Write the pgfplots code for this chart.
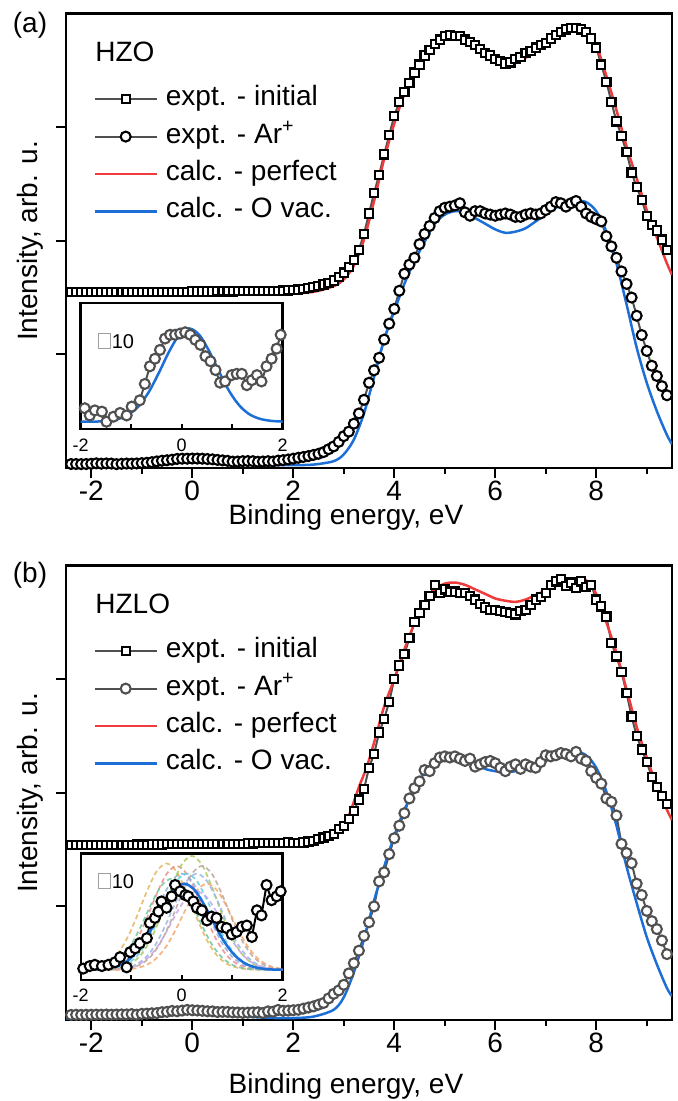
\documentclass[border=0pt]{standalone}
\usepackage{fontspec}
\setmainfont{Liberation Sans}
\usepackage{pgfplots}
\usepackage{pgfplotstable}
\pgfplotsset{compat=1.18}

\definecolor{cRed}{HTML}{EF3B3B}
\definecolor{cBlue}{HTML}{1D6FD8}
\definecolor{cGray}{HTML}{505050}
\definecolor{gTan}{HTML}{E3B65E}
\definecolor{gPink}{HTML}{F08C8C}
\definecolor{gGreen}{HTML}{A6CB5A}
\definecolor{gTeal}{HTML}{6CC79A}
\definecolor{gBlue}{HTML}{8AAEE0}
\definecolor{gCyan}{HTML}{5FD3E0}
\definecolor{gBrown}{HTML}{BCA49C}
\definecolor{gLBlue}{HTML}{9AB6E6}
\definecolor{gOrange}{HTML}{F5A66A}
\definecolor{gPurple}{HTML}{C9A3EC}

\newcommand\fmain{\fontsize{14}{16.8}\selectfont}
\newcommand\fins{\fontsize{9}{10.8}\selectfont}
\newcommand\flab{\fontsize{10}{12}\selectfont}
\newcommand\tofu{{\color{gray!75}\fboxsep=0pt\fboxrule=0.45pt\fbox{\rule{0pt}{7pt}\hspace{5.2pt}}}}

\pgfplotsset{
  mainax/.style={
    scale only axis, width=303pt, height=227.25pt,
    xmin=-2.5, xmax=9.5, ymin=0, ymax=4,
    axis line style={line width=1.4pt},
    tick pos=left, tick align=outside,
    xtick={-2,0,2,4,6,8}, xticklabels={-2,0,2,4,6,8},
    minor xtick={-1,1,3,5,7,9},
    ytick={1,2,3}, yticklabels={,,},
    major tick length=5pt, minor tick length=3pt,
    every tick/.style={black, line width=1pt},
    xticklabel style={font=\fmain, inner sep=0pt, yshift=-1.5pt},
    legend style={at={(axis description cs:0.0446,0.842)}, anchor=north west,
      draw=none, fill=none, inner sep=0pt, row sep=5.2pt, column sep=4pt,
      nodes={inner sep=0pt, text height=10pt, text depth=3.5pt, font=\fmain}},
    legend cell align=left,
    legend image code/.code={\draw[mark repeat=2,mark phase=2,##1] plot coordinates {(0pt,0pt) (15.5pt,0pt) (31pt,0pt)};},
  },
  insax/.style={
    scale only axis, width=101pt, height=63pt,
    xmin=-2, xmax=2, ymin=0, ymax=1,
    axis line style={line width=1.2pt},
    axis background/.style={fill=white},
    tick pos=left, tick align=inside,
    xtick={-2,-1,0,1,2}, xticklabels={-2,,0,,2},
    ytick=\empty,
    major tick length=2.5pt,
    every tick/.style={black, line width=0.9pt},
    xticklabel style={font=\fins, inner sep=0pt, yshift=-4.5pt},
  },
  expA/.style={color=cGray, line width=1pt,
    mark options={draw=black, fill=white, line width=1.05pt, solid}},
  expB/.style={color=cGray, line width=1pt,
    mark options={draw=cGray, fill=white, line width=1.05pt, solid}},
  calcR/.style={color=cRed, line width=1.25pt, smooth, no marks},
  calcB/.style={color=cBlue, line width=1.25pt, smooth, no marks},
  gau/.style={line width=0.85pt, smooth, no marks, dash pattern=on 2.4pt off 1.6pt, opacity=0.85},
}

% (a) HZO, expt. - initial
\pgfplotstableread{
E I
-2.4 1.548
-2.3 1.548
-2.2 1.547
-2.1 1.548
-2.0 1.548
-1.9 1.549
-1.8 1.548
-1.7 1.548
-1.6 1.549
-1.5 1.548
-1.4 1.549
-1.3 1.549
-1.2 1.548
-1.1 1.549
-1.0 1.549
-0.9 1.550
-0.8 1.550
-0.7 1.550
-0.6 1.551
-0.5 1.551
-0.4 1.551
-0.3 1.552
-0.2 1.552
-0.1 1.552
0.0 1.553
0.1 1.553
0.2 1.553
0.3 1.553
0.4 1.553
0.5 1.554
0.6 1.554
0.7 1.554
0.8 1.554
0.9 1.555
1.0 1.555
1.1 1.555
1.2 1.556
1.3 1.556
1.4 1.557
1.5 1.557
1.6 1.558
1.7 1.560
1.8 1.561
1.9 1.563
2.0 1.565
2.1 1.570
2.2 1.577
2.3 1.585
2.4 1.592
2.5 1.600
2.6 1.615
2.7 1.630
2.8 1.650
2.9 1.680
3.0 1.720
3.1 1.770
3.2 1.830
3.3 1.920
3.4 2.060
3.5 2.240
3.6 2.420
3.7 2.580
3.8 2.760
3.9 2.930
4.0 3.100
4.1 3.220
4.2 3.310
4.3 3.390
4.4 3.480
4.5 3.550
4.6 3.630
4.7 3.680
4.8 3.730
4.9 3.770
5.0 3.800
5.1 3.810
5.2 3.800
5.3 3.800
5.4 3.770
5.5 3.750
5.6 3.720
5.7 3.690
5.8 3.650
5.9 3.630
6.0 3.600
6.1 3.580
6.2 3.560
6.3 3.570
6.4 3.600
6.5 3.620
6.6 3.650
6.7 3.670
6.8 3.700
6.9 3.720
7.0 3.740
7.1 3.780
7.2 3.810
7.3 3.840
7.4 3.860
7.5 3.870
7.6 3.870
7.7 3.860
7.8 3.840
7.9 3.780
8.0 3.700
8.1 3.550
8.2 3.400
8.3 3.220
8.4 3.050
8.5 2.920
8.6 2.780
8.7 2.600
8.8 2.470
8.9 2.360
9.0 2.220
9.1 2.140
9.2 2.090
9.3 2.010
9.4 1.920
}\sqA

% (a) HZO, expt. - Ar+
\pgfplotstableread{
E I
-2.4 0.035
-2.3 0.035
-2.2 0.034
-2.1 0.035
-2.0 0.037
-1.9 0.041
-1.8 0.038
-1.7 0.040
-1.6 0.039
-1.5 0.034
-1.4 0.037
-1.3 0.039
-1.2 0.038
-1.1 0.040
-1.0 0.043
-0.9 0.046
-0.8 0.051
-0.7 0.058
-0.6 0.064
-0.5 0.068
-0.4 0.073
-0.3 0.080
-0.2 0.082
-0.1 0.082
0.0 0.083
0.1 0.083
0.2 0.082
0.3 0.079
0.4 0.076
0.5 0.071
0.6 0.067
0.7 0.063
0.8 0.056
0.9 0.057
1.0 0.060
1.1 0.061
1.2 0.060
1.3 0.055
1.4 0.057
1.5 0.060
1.6 0.057
1.7 0.065
1.8 0.069
1.9 0.075
2.0 0.082
2.1 0.090
2.2 0.097
2.3 0.105
2.4 0.115
2.5 0.125
2.6 0.140
2.7 0.165
2.8 0.190
2.9 0.230
3.0 0.280
3.1 0.320
3.2 0.390
3.3 0.480
3.4 0.600
3.5 0.750
3.6 0.860
3.7 0.970
3.8 1.130
3.9 1.270
4.0 1.400
4.1 1.560
4.2 1.710
4.3 1.790
4.4 1.850
4.5 1.970
4.6 2.060
4.7 2.130
4.8 2.200
4.9 2.260
5.0 2.290
5.1 2.300
5.2 2.310
5.3 2.330
5.4 2.250
5.5 2.220
5.6 2.260
5.7 2.260
5.8 2.240
5.9 2.230
6.0 2.220
6.1 2.230
6.2 2.240
6.3 2.230
6.4 2.210
6.5 2.210
6.6 2.230
6.7 2.240
6.8 2.230
6.9 2.240
7.0 2.270
7.1 2.300
7.2 2.340
7.3 2.330
7.4 2.300
7.5 2.330
7.6 2.350
7.7 2.300
7.8 2.240
7.9 2.210
8.0 2.190
8.1 2.170
8.2 2.040
8.3 1.950
8.4 1.850
8.5 1.730
8.6 1.620
8.7 1.500
8.8 1.340
8.9 1.170
9.0 1.030
9.1 0.900
9.2 0.810
9.3 0.720
9.4 0.640
}\ciA

% (b) HZLO, expt. - initial
\pgfplotstableread{
E I
-2.4 1.540
-2.3 1.541
-2.2 1.540
-2.1 1.541
-2.0 1.541
-1.9 1.542
-1.8 1.541
-1.7 1.542
-1.6 1.542
-1.5 1.543
-1.4 1.542
-1.3 1.543
-1.2 1.543
-1.1 1.544
-1.0 1.544
-0.9 1.544
-0.8 1.545
-0.7 1.545
-0.6 1.545
-0.5 1.546
-0.4 1.546
-0.3 1.546
-0.2 1.547
-0.1 1.547
0.0 1.548
0.1 1.548
0.2 1.548
0.3 1.549
0.4 1.549
0.5 1.550
0.6 1.550
0.7 1.550
0.8 1.551
0.9 1.551
1.0 1.552
1.1 1.553
1.2 1.554
1.3 1.555
1.4 1.556
1.5 1.557
1.6 1.558
1.7 1.559
1.8 1.560
1.9 1.562
2.0 1.555
2.1 1.557
2.2 1.562
2.3 1.570
2.4 1.578
2.5 1.590
2.6 1.605
2.7 1.620
2.8 1.640
2.9 1.680
3.0 1.710
3.1 1.770
3.2 1.840
3.3 1.940
3.4 2.030
3.5 2.220
3.6 2.340
3.7 2.530
3.8 2.650
3.9 2.800
4.0 3.000
4.1 3.120
4.2 3.220
4.3 3.360
4.4 3.500
4.5 3.580
4.6 3.650
4.7 3.730
4.8 3.830
4.9 3.760
5.0 3.790
5.1 3.770
5.2 3.770
5.3 3.760
5.4 3.760
5.5 3.730
5.6 3.700
5.7 3.660
5.8 3.630
5.9 3.610
6.0 3.610
6.1 3.600
6.2 3.590
6.3 3.580
6.4 3.570
6.5 3.600
6.6 3.610
6.7 3.650
6.8 3.700
6.9 3.720
7.0 3.760
7.1 3.830
7.2 3.860
7.3 3.880
7.4 3.820
7.5 3.850
7.6 3.800
7.7 3.860
7.8 3.810
7.9 3.830
8.0 3.700
8.1 3.640
8.2 3.550
8.3 3.320
8.4 3.200
8.5 3.060
8.6 2.880
8.7 2.670
8.8 2.500
8.9 2.380
9.0 2.270
9.1 2.140
9.2 2.050
9.3 1.970
9.4 1.900
}\sqB

% (b) HZLO, expt. - Ar+
\pgfplotstableread{
E I
-2.4 0.045
-2.3 0.046
-2.2 0.045
-2.1 0.046
-2.0 0.046
-1.9 0.047
-1.8 0.047
-1.7 0.048
-1.6 0.047
-1.5 0.048
-1.4 0.049
-1.3 0.049
-1.2 0.052
-1.1 0.047
-1.0 0.054
-0.9 0.056
-0.8 0.059
-0.7 0.061
-0.6 0.069
-0.5 0.072
-0.4 0.080
-0.3 0.077
-0.2 0.083
-0.1 0.089
0.0 0.086
0.1 0.084
0.2 0.081
0.3 0.077
0.4 0.076
0.5 0.070
0.6 0.072
0.7 0.071
0.8 0.067
0.9 0.066
1.0 0.063
1.1 0.065
1.2 0.067
1.3 0.068
1.4 0.062
1.5 0.076
1.6 0.073
1.7 0.089
1.8 0.081
1.9 0.083
2.0 0.086
2.1 0.090
2.2 0.100
2.3 0.110
2.4 0.120
2.5 0.135
2.6 0.150
2.7 0.190
2.8 0.230
2.9 0.260
3.0 0.310
3.1 0.410
3.2 0.500
3.3 0.610
3.4 0.740
3.5 0.860
3.6 1.000
3.7 1.220
3.8 1.300
3.9 1.460
4.0 1.600
4.1 1.710
4.2 1.820
4.3 1.950
4.4 2.040
4.5 2.100
4.6 2.200
4.7 2.190
4.8 2.260
4.9 2.310
5.0 2.320
5.1 2.310
5.2 2.320
5.3 2.300
5.4 2.280
5.5 2.300
5.6 2.230
5.7 2.250
5.8 2.270
5.9 2.280
6.0 2.260
6.1 2.220
6.2 2.190
6.3 2.230
6.4 2.250
6.5 2.210
6.6 2.250
6.7 2.230
6.8 2.220
6.9 2.270
7.0 2.330
7.1 2.320
7.2 2.330
7.3 2.350
7.4 2.340
7.5 2.320
7.6 2.360
7.7 2.300
7.8 2.280
7.9 2.190
8.0 2.130
8.1 2.080
8.2 1.950
8.3 1.920
8.4 1.800
8.5 1.550
8.6 1.470
8.7 1.380
8.8 1.200
8.9 1.100
9.0 0.960
9.1 0.870
9.2 0.800
9.3 0.700
9.4 0.580
}\ciB

\begin{document}
\begin{tikzpicture}[font=\fmain]

% ---------------- panel (a) ----------------
\begin{axis}[mainax, at={(0pt,0pt)}, anchor=south west]
\addplot[expA, mark=square*, mark size=2.05pt] table[x=E,y=I] {\sqA};
\addplot[expA, mark=*, mark size=2.5pt] table[x=E,y=I] {\ciA};
\addplot[calcR] coordinates {(-2.5,1.525)(-1.5,1.525)(-0.5,1.527)(0.5,1.528)(1.0,1.530)(1.5,1.533)(2.0,1.538)(2.4,1.550)(2.8,1.600)(3.0,1.660)(3.2,1.780)(3.4,2.010)(3.6,2.350)(3.8,2.720)(4.0,3.030)(4.2,3.290)(4.4,3.480)(4.6,3.620)(4.8,3.720)(5.0,3.780)(5.2,3.810)(5.4,3.800)(5.6,3.750)(5.8,3.680)(6.0,3.620)(6.2,3.585)(6.4,3.580)(6.6,3.610)(6.8,3.670)(7.0,3.730)(7.2,3.790)(7.4,3.840)(7.6,3.870)(7.8,3.850)(8.0,3.720)(8.2,3.450)(8.4,3.150)(8.6,2.830)(8.8,2.550)(9.0,2.270)(9.2,2.030)(9.4,1.800)(9.5,1.700)};
\addplot[calcB] coordinates {(-2.5,0.025)(-1.6,0.025)(-1.2,0.026)(-0.8,0.032)(-0.4,0.045)(0.0,0.060)(0.2,0.065)(0.4,0.062)(0.8,0.045)(1.2,0.030)(1.6,0.025)(2.0,0.025)(2.4,0.030)(2.8,0.060)(3.0,0.120)(3.2,0.250)(3.4,0.480)(3.6,0.800)(3.8,1.130)(4.0,1.380)(4.2,1.620)(4.4,1.820)(4.6,1.990)(4.8,2.150)(5.0,2.230)(5.2,2.260)(5.4,2.250)(5.6,2.200)(5.8,2.150)(6.0,2.100)(6.2,2.070)(6.4,2.080)(6.6,2.110)(6.8,2.170)(7.0,2.230)(7.2,2.290)(7.4,2.330)(7.6,2.350)(7.8,2.340)(8.0,2.260)(8.2,2.080)(8.4,1.800)(8.6,1.440)(8.8,1.060)(9.0,0.750)(9.2,0.500)(9.4,0.290)(9.5,0.210)};
\legend{expt. - initial, expt. - Ar\textsuperscript{+}, calc. - perfect, calc. - O vac.}
\end{axis}

\begin{axis}[insax, at={(7.35pt,19.35pt)}, anchor=south west]
\addplot[color=cGray, line width=1pt, mark=*, mark size=2.5pt,
  mark options={draw=cGray, fill=white, line width=1.05pt, solid}] coordinates {
(-1.92,0.167)(-1.82,0.110)(-1.72,0.150)(-1.58,0.140)(-1.49,0.060)(-1.35,0.100)(-1.22,0.130)(-1.09,0.110)(-0.99,0.180)(-0.83,0.230)(-0.73,0.360)(-0.63,0.500)(-0.53,0.560)(-0.43,0.630)(-0.33,0.720)(-0.23,0.750)(-0.13,0.750)(-0.03,0.760)(0.07,0.770)(0.17,0.750)(0.27,0.710)(0.37,0.670)(0.47,0.580)(0.57,0.540)(0.67,0.470)(0.76,0.370)(0.86,0.380)(0.99,0.430)(1.09,0.440)(1.19,0.440)(1.29,0.350)(1.39,0.390)(1.49,0.430)(1.58,0.380)(1.68,0.500)(1.78,0.560)(1.88,0.640)(1.96,0.750)};
\addplot[calcB] coordinates {(-2.05,0.060)(-1.85,0.061)(-1.65,0.062)(-1.45,0.068)(-1.25,0.083)(-1.05,0.117)(-0.85,0.185)(-0.65,0.297)(-0.45,0.450)(-0.25,0.616)(-0.05,0.749)(0.15,0.800)(0.35,0.749)(0.55,0.616)(0.75,0.450)(0.95,0.297)(1.15,0.185)(1.35,0.117)(1.55,0.083)(1.75,0.068)(1.95,0.062)(2.15,0.061)};
\node[anchor=base west, inner sep=0pt, font=\flab] at (axis cs:-1.657,0.645) {\tofu\kern0.6pt 10};
\end{axis}

\node[anchor=base, inner sep=0pt] at (-18pt,217.8pt) {(a)};
\node[anchor=base west, inner sep=0pt] at (14.5pt,203.2pt) {HZO};
\node[anchor=base, inner sep=0pt, rotate=90] at (-14.5pt,113.5pt) {Intensity, arb. u.};
\node[anchor=base, inner sep=0pt] at (140pt,-28.5pt) {Binding energy, eV};

% ---------------- panel (b) ----------------
\begin{axis}[mainax, at={(0pt,-276pt)}, anchor=south west]
\addplot[expA, mark=square*, mark size=2.05pt] table[x=E,y=I] {\sqB};
\addplot[expB, mark=*, mark size=2.5pt] table[x=E,y=I] {\ciB};
\addplot[calcR] coordinates {(-2.5,1.530)(-1.5,1.530)(-0.5,1.531)(0.5,1.532)(1.0,1.533)(1.5,1.535)(2.0,1.540)(2.4,1.560)(2.7,1.600)(2.9,1.650)(3.1,1.800)(3.3,2.050)(3.45,2.220)(3.6,2.440)(3.8,2.760)(4.0,3.000)(4.2,3.260)(4.4,3.490)(4.6,3.670)(4.8,3.790)(5.0,3.840)(5.2,3.850)(5.4,3.830)(5.6,3.790)(5.8,3.750)(6.0,3.710)(6.2,3.690)(6.4,3.680)(6.6,3.700)(6.8,3.740)(7.0,3.780)(7.2,3.820)(7.4,3.850)(7.6,3.880)(7.8,3.870)(8.0,3.750)(8.2,3.500)(8.4,3.230)(8.6,2.910)(8.8,2.580)(9.0,2.310)(9.2,2.060)(9.4,1.850)(9.5,1.760)};
\addplot[calcB] coordinates {(-2.5,0.015)(-1.6,0.016)(-1.2,0.020)(-0.8,0.030)(-0.4,0.050)(0.0,0.064)(0.2,0.066)(0.4,0.062)(0.8,0.043)(1.2,0.026)(1.6,0.018)(2.0,0.017)(2.4,0.030)(2.8,0.090)(3.0,0.200)(3.2,0.420)(3.4,0.710)(3.6,1.050)(3.8,1.350)(4.0,1.620)(4.2,1.850)(4.4,2.030)(4.6,2.180)(4.8,2.280)(5.0,2.320)(5.2,2.330)(5.4,2.310)(5.6,2.260)(5.8,2.210)(6.0,2.190)(6.2,2.180)(6.4,2.190)(6.6,2.210)(6.8,2.250)(7.0,2.280)(7.2,2.320)(7.4,2.340)(7.6,2.360)(7.8,2.330)(8.0,2.220)(8.2,2.010)(8.4,1.710)(8.6,1.350)(8.8,1.030)(9.0,0.730)(9.2,0.490)(9.4,0.280)(9.5,0.210)};
\legend{expt. - initial, expt. - Ar\textsuperscript{+}, calc. - perfect, calc. - O vac.}
\end{axis}

\begin{axis}[insax, at={(7.35pt,-256pt)}, anchor=south west, height=63.35pt]
% individual O-vacancy spectra (dashed)
\addplot[gau, gTan] coordinates {(-2.3,0.080)(-2.1,0.081)(-1.9,0.085)(-1.7,0.097)(-1.5,0.127)(-1.3,0.193)(-1.1,0.314)(-0.9,0.489)(-0.7,0.690)(-0.5,0.855)(-0.3,0.920)(-0.1,0.855)(0.1,0.690)(0.3,0.489)(0.5,0.314)(0.7,0.193)(0.9,0.127)(1.1,0.097)(1.3,0.085)(1.5,0.081)(1.7,0.080)(1.9,0.080)(2.1,0.080)};
\addplot[gau, gPink] coordinates {(-2.1,0.080)(-1.9,0.081)(-1.7,0.085)(-1.5,0.096)(-1.3,0.126)(-1.1,0.191)(-0.9,0.308)(-0.7,0.479)(-0.5,0.675)(-0.3,0.837)(-0.1,0.900)(0.1,0.837)(0.3,0.675)(0.5,0.479)(0.7,0.308)(0.9,0.191)(1.1,0.126)(1.3,0.096)(1.5,0.085)(1.7,0.081)(1.9,0.080)(2.1,0.080)};
\addplot[gau, gTeal] coordinates {(-2.2,0.080)(-2.0,0.081)(-1.8,0.084)(-1.6,0.094)(-1.4,0.120)(-1.2,0.177)(-1.0,0.280)(-0.8,0.431)(-0.6,0.603)(-0.4,0.745)(-0.2,0.800)(0.0,0.745)(0.2,0.603)(0.4,0.431)(0.6,0.280)(0.8,0.177)(1.0,0.120)(1.2,0.094)(1.4,0.084)(1.6,0.081)(1.8,0.080)(2.0,0.080)};
\addplot[gau, gBlue] coordinates {(-2.0,0.080)(-1.8,0.081)(-1.6,0.085)(-1.4,0.095)(-1.2,0.123)(-1.0,0.183)(-0.8,0.291)(-0.6,0.450)(-0.4,0.632)(-0.2,0.781)(0.0,0.840)(0.2,0.781)(0.4,0.632)(0.6,0.450)(0.8,0.291)(1.0,0.183)(1.2,0.123)(1.4,0.095)(1.6,0.085)(1.8,0.081)(2.0,0.080)};
\addplot[gau, gCyan] coordinates {(-2.1,0.080)(-1.9,0.080)(-1.7,0.081)(-1.5,0.085)(-1.3,0.095)(-1.1,0.123)(-0.9,0.183)(-0.7,0.291)(-0.5,0.450)(-0.3,0.632)(-0.1,0.781)(0.1,0.840)(0.3,0.781)(0.5,0.632)(0.7,0.450)(0.9,0.291)(1.1,0.183)(1.3,0.123)(1.5,0.095)(1.7,0.085)(1.9,0.081)(2.1,0.080)};
\addplot[gau, gGreen] coordinates {(-2.0,0.080)(-1.8,0.080)(-1.6,0.081)(-1.4,0.085)(-1.2,0.098)(-1.0,0.130)(-0.8,0.202)(-0.6,0.330)(-0.4,0.518)(-0.2,0.733)(0.0,0.911)(0.2,0.980)(0.4,0.911)(0.6,0.733)(0.8,0.518)(1.0,0.330)(1.2,0.202)(1.4,0.130)(1.6,0.098)(1.8,0.085)(2.0,0.081)(2.2,0.080)};
\addplot[gau, gLBlue] coordinates {(-2.1,0.080)(-1.9,0.080)(-1.7,0.080)(-1.5,0.081)(-1.3,0.085)(-1.1,0.095)(-0.9,0.123)(-0.7,0.183)(-0.5,0.291)(-0.3,0.450)(-0.1,0.632)(0.1,0.781)(0.3,0.840)(0.5,0.781)(0.7,0.632)(0.9,0.450)(1.1,0.291)(1.3,0.183)(1.5,0.123)(1.7,0.095)(1.9,0.085)(2.1,0.081)};
\addplot[gau, gPurple] coordinates {(-2.1,0.080)(-1.9,0.080)(-1.7,0.080)(-1.5,0.081)(-1.3,0.084)(-1.1,0.092)(-0.9,0.115)(-0.7,0.164)(-0.5,0.252)(-0.3,0.382)(-0.1,0.530)(0.1,0.652)(0.3,0.700)(0.5,0.652)(0.7,0.530)(0.9,0.382)(1.1,0.252)(1.3,0.164)(1.5,0.115)(1.7,0.092)(1.9,0.084)(2.1,0.081)};
\addplot[gau, gBrown] coordinates {(-2.0,0.080)(-1.8,0.080)(-1.6,0.080)(-1.4,0.081)(-1.2,0.085)(-1.0,0.096)(-0.8,0.126)(-0.6,0.191)(-0.4,0.308)(-0.2,0.479)(0.0,0.675)(0.2,0.837)(0.4,0.900)(0.6,0.837)(0.8,0.675)(1.0,0.479)(1.2,0.308)(1.4,0.191)(1.6,0.126)(1.8,0.096)(2.0,0.085)(2.2,0.081)};
\addplot[gau, gOrange] coordinates {(-2.1,0.080)(-1.9,0.080)(-1.7,0.080)(-1.5,0.080)(-1.3,0.081)(-1.1,0.084)(-0.9,0.094)(-0.7,0.118)(-0.5,0.172)(-0.3,0.269)(-0.1,0.411)(0.1,0.574)(0.3,0.708)(0.5,0.760)(0.7,0.708)(0.9,0.574)(1.1,0.411)(1.3,0.269)(1.5,0.172)(1.7,0.118)(1.9,0.094)(2.1,0.084)};
% measured (x10)
\addplot[color=black, line width=1pt, mark=*, mark size=2.5pt,
  mark options={draw=black, fill=white, line width=1.05pt, solid}] coordinates {
(-1.95,0.090)(-1.82,0.110)(-1.72,0.120)(-1.58,0.110)(-1.45,0.120)(-1.32,0.140)(-1.22,0.180)(-1.09,0.100)(-1.02,0.220)(-0.92,0.250)(-0.83,0.290)(-0.69,0.330)(-0.63,0.450)(-0.53,0.490)(-0.46,0.540)(-0.40,0.620)(-0.30,0.570)(-0.20,0.660)(-0.13,0.750)(-0.03,0.700)(0.07,0.670)(0.13,0.660)(0.23,0.620)(0.30,0.570)(0.40,0.550)(0.50,0.470)(0.59,0.500)(0.69,0.490)(0.79,0.420)(0.89,0.410)(0.99,0.360)(1.09,0.380)(1.19,0.420)(1.29,0.430)(1.39,0.340)(1.49,0.550)(1.58,0.510)(1.68,0.750)(1.78,0.630)(1.88,0.660)(1.96,0.700)};
\addplot[calcB] coordinates {(-2.15,0.080)(-1.95,0.081)(-1.75,0.082)(-1.55,0.087)(-1.35,0.101)(-1.15,0.132)(-0.95,0.195)(-0.75,0.298)(-0.55,0.438)(-0.35,0.591)(-0.15,0.713)(0.05,0.760)(0.25,0.713)(0.45,0.591)(0.65,0.438)(0.85,0.298)(1.05,0.195)(1.25,0.132)(1.45,0.101)(1.65,0.087)(1.85,0.082)(2.05,0.081)};
\node[anchor=base west, inner sep=0pt, font=\flab] at (axis cs:-1.657,0.724) {\tofu\kern0.6pt 10};
\end{axis}

\node[anchor=base, inner sep=0pt] at (-18pt,-57.2pt) {(b)};
\node[anchor=base west, inner sep=0pt] at (14.5pt,-72.7pt) {HZLO};
\node[anchor=base, inner sep=0pt, rotate=90] at (-14.5pt,-162.5pt) {Intensity, arb. u.};
\node[anchor=base, inner sep=0pt] at (140pt,-312.5pt) {Binding energy, eV};

\pgfresetboundingbox
\path[use as bounding box] (-33pt,-316.5pt) rectangle (306pt,234pt);
\end{tikzpicture}
\end{document}
